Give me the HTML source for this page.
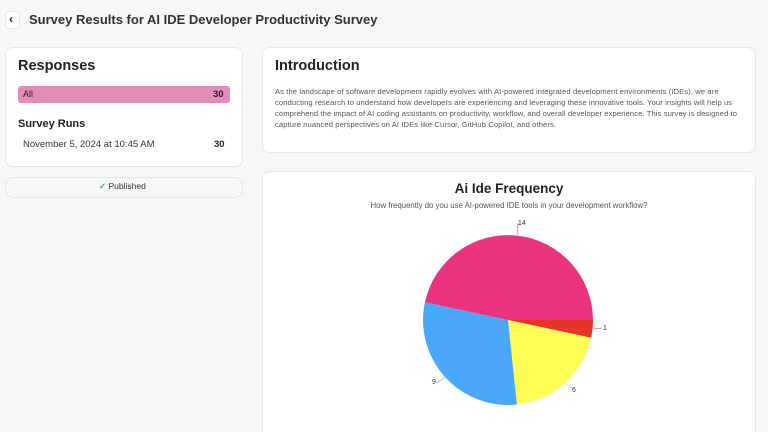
<!DOCTYPE html><html style="overflow:hidden;height:432px"><head><style>
body{margin:0;width:768px;height:432px;overflow:hidden;background:#f7f7f7;font-family:"Liberation Sans",sans-serif;color:#222;position:relative}
.card{position:absolute;background:#fff;border:1px solid #e6e6e6;border-radius:8px;box-sizing:border-box}
.t{position:absolute;white-space:nowrap}
</style></head><body>
<div class="card" style="left:5px;top:11px;width:15px;height:18px;border-radius:4px"></div>
<div class="t" style="left:9px;top:12px;font-size:12px;font-weight:bold">‹</div>
<div class="t" style="left:29px;top:12px;font-size:13px;font-weight:bold;color:#333">Survey Results for AI IDE Developer Productivity Survey</div>
<div class="card" style="left:5px;top:47px;width:238px;height:120px"></div>
<div class="t" style="left:18px;top:58px;font-size:14.5px;font-weight:bold">Responses</div>
<div style="position:absolute;left:18px;top:86px;width:212px;height:17px;background:#e28db9;border-radius:3px"></div>
<div class="t" style="left:23px;top:89px;font-size:9px">All</div>
<div class="t" style="left:213px;top:89px;font-size:9.5px;font-weight:bold">30</div>
<div class="t" style="left:18px;top:118px;font-size:11px;font-weight:bold">Survey Runs</div>
<div class="t" style="left:23px;top:139px;font-size:9.5px;color:#333">November 5, 2024 at 10:45 AM</div>
<div class="t" style="left:214px;top:139px;font-size:9.5px;font-weight:bold">30</div>
<div class="card" style="left:5px;top:177px;width:238px;height:21px;background:#f7f7f7"></div>
<div class="t" style="left:99px;top:181px;font-size:8.5px;color:#333"><span style="color:#3cb55a;font-weight:bold">✓</span> Published</div>
<div class="card" style="left:262px;top:47px;width:494px;height:106px"></div>
<div class="t" style="left:275px;top:58px;font-size:14.5px;font-weight:bold">Introduction</div>
<div style="position:absolute;left:275px;top:86px;width:472px;font-size:7.6px;letter-spacing:0.1px;line-height:11px;color:#555">As the landscape of software development rapidly evolves with AI-powered integrated development environments (IDEs), we are conducting research to understand how developers are experiencing and leveraging these innovative tools. Your insights will help us comprehend the impact of AI coding assistants on productivity, workflow, and overall developer experience. This survey is designed to capture nuanced perspectives on AI IDEs like Cursor, GitHub Copilot, and others.</div>
<div class="card" style="left:262px;top:171px;width:494px;height:261px;border-bottom:none;border-radius:8px 8px 0 0"></div>
<div class="t" style="left:262px;width:494px;text-align:center;top:181px;font-size:13.5px;font-weight:bold">Ai Ide Frequency</div>
<div class="t" style="left:262px;width:494px;text-align:center;top:201px;font-size:7.8px;color:#555">How frequently do you use AI-powered IDE tools in your development workflow?</div>
<svg style="position:absolute;left:0;top:0" width="768" height="432">
<path d="M508,320 L593,320 A85,85 0 0 1 591.1,337.7 Z" fill="#e8332a"/>
<path d="M508,320 L591.1,337.7 A85,85 0 0 1 516.9,404.5 Z" fill="#fefe55"/>
<path d="M508,320 L516.9,404.5 A85,85 0 0 1 424.9,302.3 Z" fill="#4ba8f8"/>
<path d="M508,320 L424.9,302.3 A85,85 0 0 1 593,320 Z" fill="#eb3480"/>
<g font-size="7" fill="#333" font-family="Liberation Sans">
<path d="M517,235 L518,224 L520,224" stroke="#eb3480" fill="none" stroke-width="0.6"/><text x="518" y="225">14</text>
<path d="M593,329 L602,328" stroke="#e8332a" fill="none" stroke-width="0.6"/><text x="603" y="330">1</text>
<path d="M565,383 L572,388" stroke="#d8d840" fill="none" stroke-width="0.6"/><text x="572" y="392">6</text>
<path d="M445,377 L437,383" stroke="#4ba8f8" fill="none" stroke-width="0.6"/><text x="432" y="384">9</text>
</g></svg>
</body></html>
